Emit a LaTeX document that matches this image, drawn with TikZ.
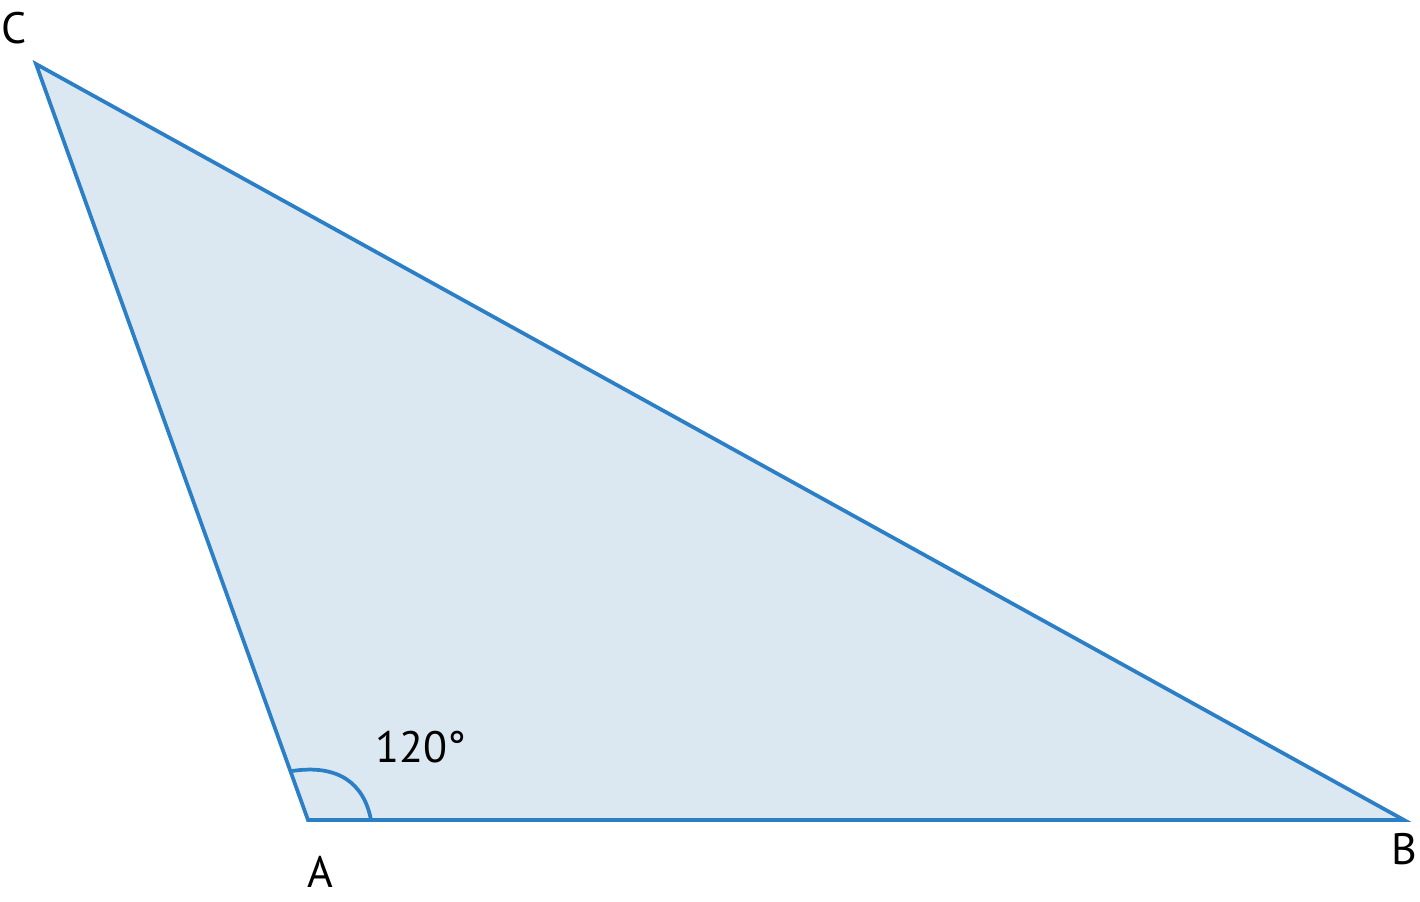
\documentclass[tikz,border=0pt]{standalone}
\usepackage{fontspec}
\setmainfont{PT Sans}
\definecolor{edge}{HTML}{2A7FC6}
\definecolor{area}{HTML}{DCE8F1}
\begin{document}
\begin{tikzpicture}[x=0.75pt,y=-0.75pt,
  lbl/.style={font=\fontsize{33}{38}\selectfont, inner sep=0pt, text=black}]
\useasboundingbox (0,0) rectangle (1420,901);
\coordinate (A) at (308,820);
\coordinate (B) at (1404,820);
\coordinate (C) at (36,64);
\coordinate (P) at (371,820);
\coordinate (Q) at (292,771);
\draw[edge, fill=area, line width=2.8pt, line join=miter] (A) -- (B) -- (C) -- cycle;
\draw[edge, line width=2.8pt] (P) .. controls (364,783) and (338,764) .. (Q);
\node[lbl] (lc) at (14,28) {C};
\node[lbl] (lb) at (1404,849) {B};
\node[lbl] (la) at (320,872) {A};
\node[lbl] (ang) at (421,747) {120°};
\end{tikzpicture}
\end{document}
